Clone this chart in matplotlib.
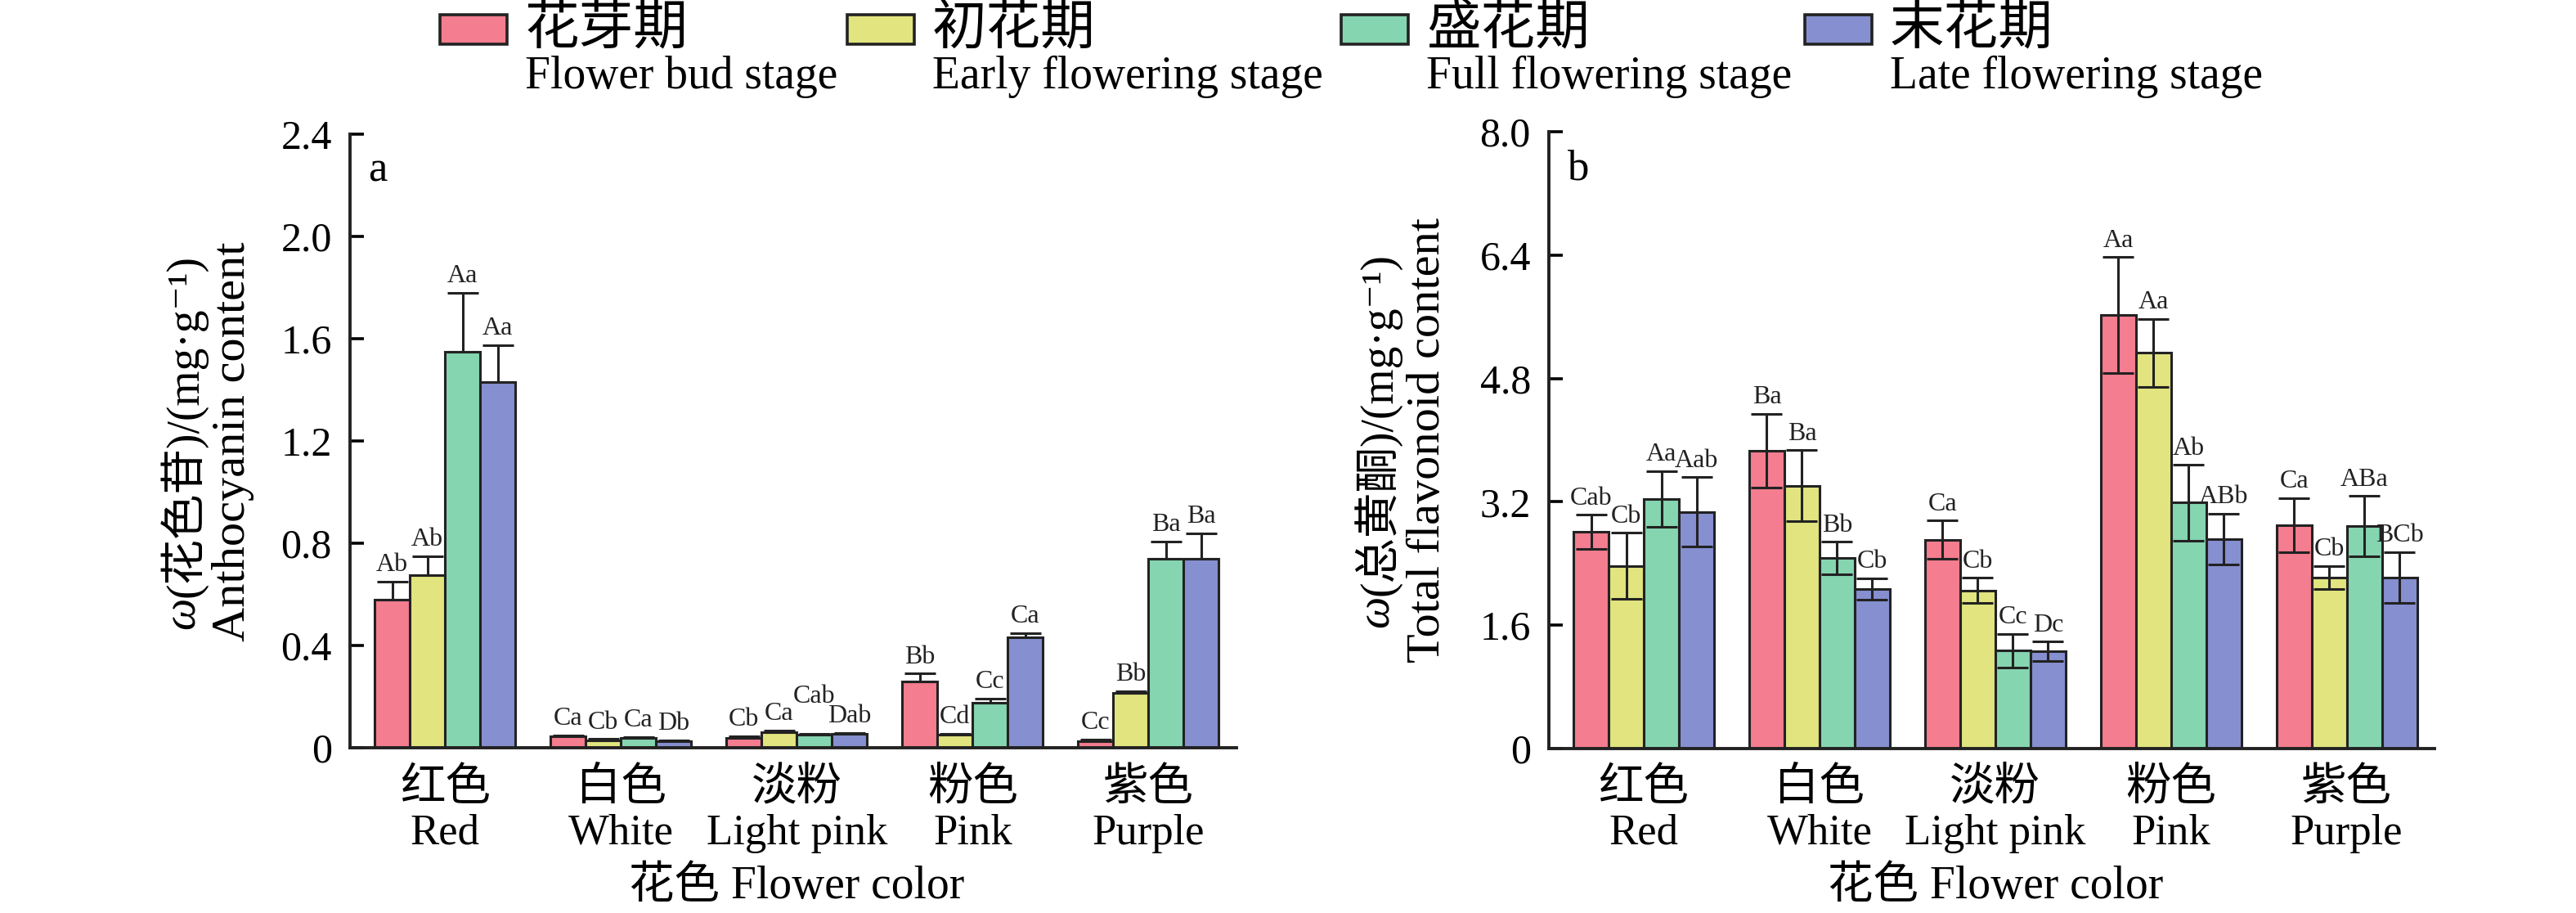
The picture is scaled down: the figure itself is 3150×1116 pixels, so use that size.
import numpy as np
import matplotlib
matplotlib.use('Agg')
import matplotlib.pyplot as plt
from matplotlib.patches import Rectangle
from matplotlib.transforms import blended_transform_factory

plt.rcParams['font.family'] = ['Liberation Serif', 'Noto Sans CJK SC', 'DejaVu Serif']

W, H = 3150, 1116

colors_cn = ['红色', '白色', '淡粉', '粉色', '紫色']
colors_en = ['Red', 'White', 'Light pink', 'Pink', 'Purple']
stages_cn = ['花芽期', '初花期', '盛花期', '末花期']
stages_en = ['Flower bud stage', 'Early flowering stage', 'Full flowering stage', 'Late flowering stage']
bar_colors = ['#F47D8F', '#E2E57F', '#86D5B1', '#8690D0']

# anthocyanin, rows = flower colour, cols = stage
antho = [[0.58, 0.675, 1.55, 1.43],
         [0.044, 0.030, 0.037, 0.026],
         [0.040, 0.061, 0.050, 0.054],
         [0.26, 0.051, 0.176, 0.432],
         [0.026, 0.214, 0.74, 0.74]]
antho_err = [[0.07, 0.075, 0.23, 0.145],
             [0.004, 0.004, 0.005, 0.004],
             [0.005, 0.007, 0.005, 0.004],
             [0.03, 0.005, 0.017, 0.016],
             [0.007, 0.008, 0.067, 0.10]]
antho_sig = [['Ab', 'Ab', 'Aa', 'Aa'],
             ['Ca', 'Cb', 'Ca', 'Db'],
             ['Cb', 'Ca', 'Cab', 'Dab'],
             ['Bb', 'Cd', 'Cc', 'Ca'],
             ['Cc', 'Bb', 'Ba', 'Ba']]

flav = [[2.81, 2.37, 3.24, 3.07],
        [3.86, 3.41, 2.47, 2.07],
        [2.71, 2.05, 1.27, 1.26],
        [5.62, 5.13, 3.19, 2.72],
        [2.90, 2.22, 2.885, 2.22]]
flav_err = [[0.22, 0.43, 0.36, 0.45],
            [0.48, 0.46, 0.21, 0.14],
            [0.245, 0.165, 0.22, 0.125],
            [0.755, 0.44, 0.49, 0.33],
            [0.35, 0.15, 0.39, 0.33]]
flav_sig = [['Cab', 'Cb', 'Aa', 'Aab'],
            ['Ba', 'Ba', 'Bb', 'Cb'],
            ['Ca', 'Cb', 'Cc', 'Dc'],
            ['Aa', 'Aa', 'Ab', 'ABb'],
            ['Ca', 'Cb', 'ABa', 'BCb']]

fig = plt.figure(figsize=(W / 200, H / 200), dpi=200)


def px_axes(l, t, r, b):
    return fig.add_axes([l / W, 1 - b / H, (r - l) / W, (b - t) / H])


def drawPanel(ax, vals, errs, sigs, ymax, yticks, ylabels, two_sided, tag, lifted=()):
    vals, errs = np.array(vals), np.array(errs)
    x = np.arange(len(colors_cn))
    w = 0.2
    for j in range(4):
        xs = x + (j - 1.5) * w
        lo = errs[:, j] if two_sided else np.zeros(len(x))
        ax.bar(xs, vals[:, j], w, color=bar_colors[j], edgecolor='#222222',
               linewidth=1.1, zorder=2)
        ax.errorbar(xs, vals[:, j], yerr=[lo, errs[:, j]], fmt='none',
                    ecolor='#222222', elinewidth=1.1, capsize=7, capthick=1.1, zorder=3)
        for i in range(len(x)):
            dy = 11 if (i, j) in lifted else 2
            ax.annotate(sigs[i][j], (xs[i], vals[i, j] + errs[i, j]),
                        xytext=(0, dy), textcoords='offset points',
                        ha='center', va='bottom', fontsize=11.5, color='#222222')
    ax.set_xlim(-0.54, 4.5)
    ax.set_ylim(0, ymax)
    ax.set_yticks(yticks)
    ax.set_yticklabels(ylabels)
    ax.set_xticks(x)
    ax.set_xticklabels([])
    ax.tick_params(axis='x', length=0)
    ax.tick_params(axis='y', direction='in', length=6, width=1.3, pad=8, labelsize=18)
    for s in ['top', 'right']:
        ax.spines[s].set_visible(False)
    for s in ['left', 'bottom']:
        ax.spines[s].set_linewidth(1.4)
        ax.spines[s].set_color('#222222')
    tr = blended_transform_factory(ax.transData, fig.transFigure)
    for i in x:
        ax.text(i, 1 - 978 / H, colors_cn[i], transform=tr, ha='center', va='baseline', fontsize=20)
        ax.text(i, 1 - 1032 / H, colors_en[i], transform=tr, ha='center', va='baseline', fontsize=19)
    ax.text(2, 1 - 1098 / H, '花色 Flower color', transform=tr, ha='center', va='baseline', fontsize=20)
    ax.text(0.02, 0.923, tag, transform=ax.transAxes, fontsize=19, va='baseline')


ax1 = px_axes(428, 164, 1512, 914)
drawPanel(ax1, antho, antho_err, antho_sig, 2.4, [0, 0.4, 0.8, 1.2, 1.6, 2.0, 2.4],
          ['0', '0.4', '0.8', '1.2', '1.6', '2.0', '2.4'], False, 'a', lifted=[(2, 2)])
ax2 = px_axes(1894, 161, 2977, 915)
drawPanel(ax2, flav, flav_err, flav_sig, 8.0, [0, 1.6, 3.2, 4.8, 6.4, 8.0],
          ['0', '1.6', '3.2', '4.8', '6.4', '8.0'], True, 'b')


def vlabel(xpx, ycpx, parts, size):
    r = fig.canvas.get_renderer()
    texts = [fig.text(xpx / W, 0.5, s, rotation=90, ha='center', va='bottom',
                      fontsize=size, style=st) for s, st in parts]
    hs = [t.get_window_extent(r).height for t in texts]
    y = (H - ycpx) - sum(hs) / 2
    for t, h in zip(texts, hs):
        t.set_position((xpx / W, y / H))
        y += h


vlabel(224, 540, [('ω', 'italic'), ('(花色苷)/(mg·g⁻¹)', 'normal')], 20)
vlabel(285, 540, [('Anthocyanin content', 'normal')], 21)
vlabel(1684, 538, [('ω', 'italic'), ('(总黄酮)/(mg·g⁻¹)', 'normal')], 20)
vlabel(1746, 538, [('Total flavonoid content', 'normal')], 21)

# legend across the top
leg_x = [538, 1036, 1640, 2207]
for k in range(4):
    x0 = leg_x[k]
    fig.patches.append(Rectangle((x0 / W, 1 - 54 / H), 82 / W, 36 / H, transform=fig.transFigure,
                                 facecolor=bar_colors[k], edgecolor='#222222', linewidth=1.3))
    fig.text((x0 + 104) / W, 1 - 53 / H, stages_cn[k], fontsize=24, va='baseline', ha='left')
    fig.text((x0 + 104) / W, 1 - 108 / H, stages_en[k], fontsize=20, va='baseline', ha='left')

fig.savefig('out.png', dpi=200)
